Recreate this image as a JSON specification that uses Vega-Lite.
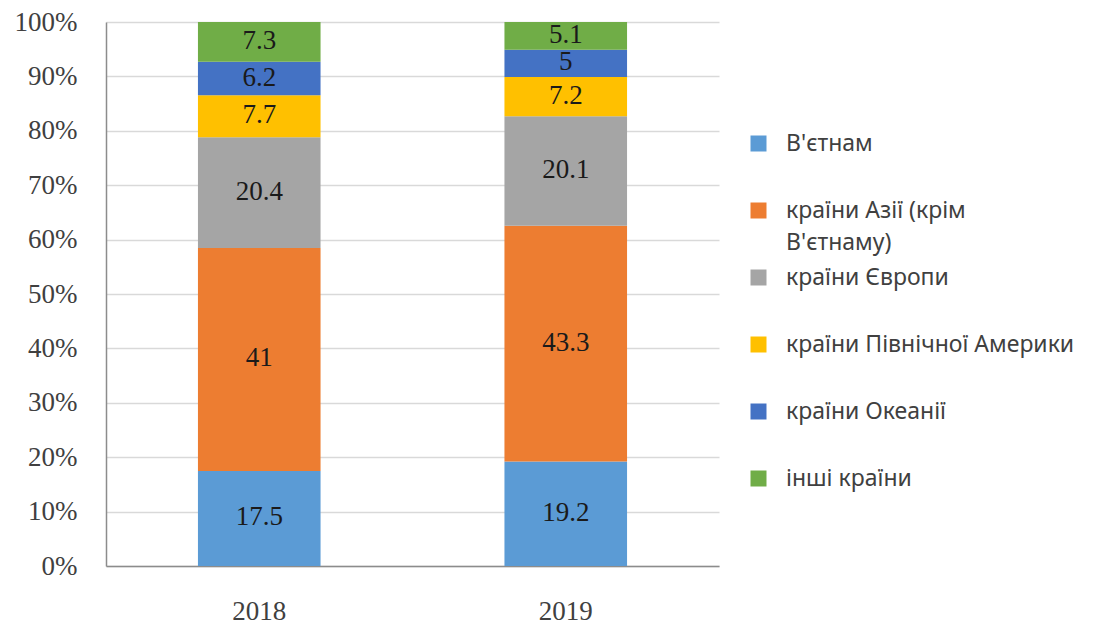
{
  "$schema": "https://vega.github.io/schema/vega-lite/v6.json",
  "width": 613,
  "height": 544,
  "autosize": {"type": "none"},
  "padding": {"left": 106, "top": 22, "right": 388, "bottom": 62},
  "background": "white",
  "data": {
    "values": [
      {"year": "2018", "series": "В'єтнам", "order": 1, "value": 17.5},
      {"year": "2018", "series": "країни Азії (крім В'єтнаму)", "order": 2, "value": 41},
      {"year": "2018", "series": "країни Європи", "order": 3, "value": 20.4},
      {"year": "2018", "series": "країни Північної Америки", "order": 4, "value": 7.7},
      {"year": "2018", "series": "країни Океанії", "order": 5, "value": 6.2},
      {"year": "2018", "series": "інші країни", "order": 6, "value": 7.3},
      {"year": "2019", "series": "В'єтнам", "order": 1, "value": 19.2},
      {"year": "2019", "series": "країни Азії (крім В'єтнаму)", "order": 2, "value": 43.3},
      {"year": "2019", "series": "країни Європи", "order": 3, "value": 20.1},
      {"year": "2019", "series": "країни Північної Америки", "order": 4, "value": 7.2},
      {"year": "2019", "series": "країни Океанії", "order": 5, "value": 5},
      {"year": "2019", "series": "інші країни", "order": 6, "value": 5.1}
    ]
  },
  "transform": [
    {"stack": "value", "groupby": ["year"], "sort": [{"field": "order", "order": "ascending"}], "as": ["v0", "v1"], "offset": "normalize"},
    {"calculate": "(datum.v0 + datum.v1) / 2", "as": "mid"}
  ],
  "encoding": {
    "x": {
      "field": "year",
      "type": "nominal",
      "title": null,
      "scale": {"paddingInner": 0.6, "paddingOuter": 0.3},
      "axis": {
        "labelAngle": 0,
        "labelFont": "Liberation Serif",
        "labelFontSize": 27,
        "labelColor": "#404040",
        "labelPadding": 32,
        "ticks": false,
        "domainColor": "#8c8c8c",
        "domainWidth": 1.5
      }
    }
  },
  "layer": [
    {
      "mark": {"type": "bar"},
      "encoding": {
        "y": {
          "field": "v0",
          "type": "quantitative",
          "title": null,
          "scale": {"domain": [0, 1], "nice": false},
          "axis": {
            "format": ".0%",
            "values": [0, 0.1, 0.2, 0.3, 0.4, 0.5, 0.6, 0.7, 0.8, 0.9, 1],
            "labelFont": "Liberation Serif",
            "labelFontSize": 27,
            "labelColor": "#404040",
            "labelPadding": 29,
            "ticks": false,
            "grid": true,
            "gridColor": "#d9d9d9",
            "gridWidth": 1.5,
            "domainColor": "#8c8c8c",
            "domainWidth": 1.5
          }
        },
        "y2": {"field": "v1"},
        "color": {
          "field": "series",
          "type": "nominal",
          "scale": {
            "domain": ["В'єтнам", "країни Азії (крім В'єтнаму)", "країни Європи", "країни Північної Америки", "країни Океанії", "інші країни"],
            "range": ["#5b9bd5", "#ed7d31", "#a5a5a5", "#ffc000", "#4472c4", "#70ad47"]
          },
          "legend": {
            "title": null,
            "orient": "none",
            "legendX": 641,
            "legendY": 110,
            "padding": 0,
            "symbolType": "square",
            "symbolSize": 256,
            "symbolStrokeWidth": 0,
            "symbolOpacity": 1,
            "labelFont": "Noto Sans",
            "labelFontSize": 23,
            "labelColor": "#404040",
            "labelOffset": 16,
            "labelLimit": 400,
            "rowPadding": 11,
            "labelExpr": "datum.label == \"країни Азії (крім В'єтнаму)\" ? ['країни Азії (крім', \"В'єтнаму)\"] : [datum.label, '']"
          }
        }
      }
    },
    {
      "mark": {"type": "text", "font": "Liberation Serif", "fontSize": 27, "color": "#1a1a1a", "baseline": "middle", "dy": -1},
      "encoding": {
        "y": {"field": "mid", "type": "quantitative"},
        "text": {"field": "value", "type": "nominal"}
      }
    }
  ],
  "config": {
    "view": {"stroke": null},
    "style": {"guide-label": {"lineHeight": 32}}
  }
}
